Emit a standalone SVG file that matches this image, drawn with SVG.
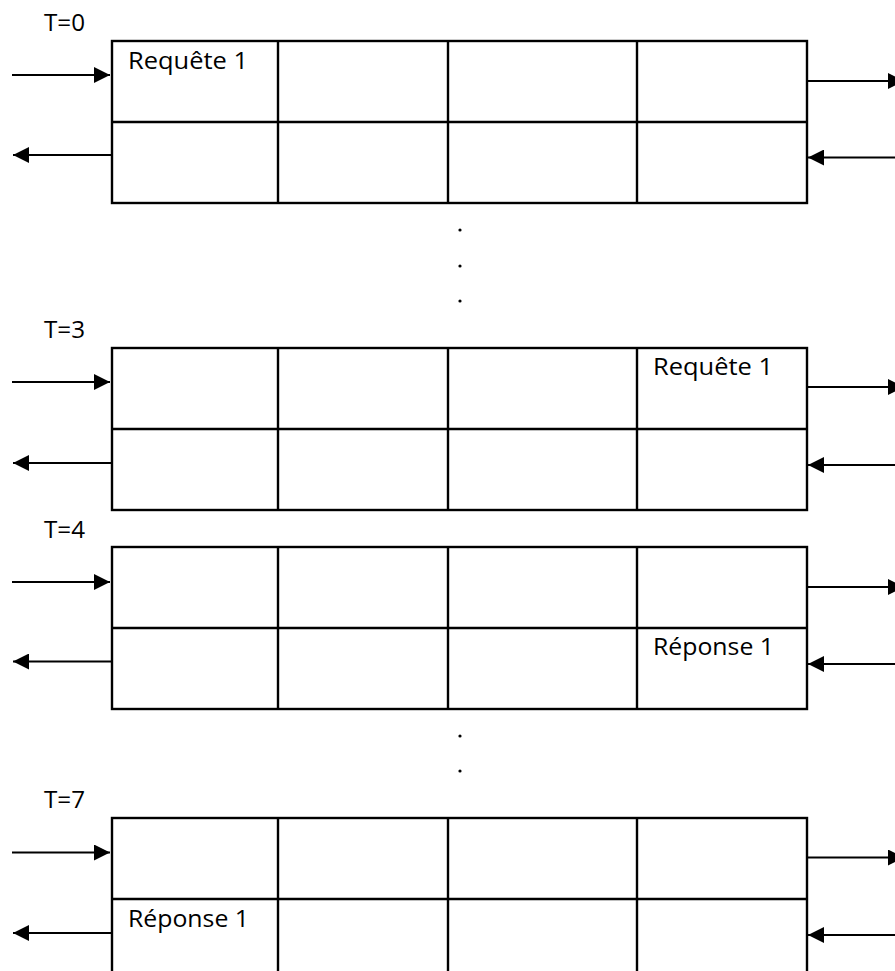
<svg xmlns="http://www.w3.org/2000/svg" width="895" height="971" viewBox="0 0 895 971">
  <style>
    .cell { fill: #ffffff; stroke: #000000; stroke-width: 2.4; }
    .grid { stroke: #000000; stroke-width: 2.4; fill: none; }
    .arrow { stroke: #000000; stroke-width: 2.2; fill: none; marker-end: url(#head); }
    .label { font-family: "Open Sans", "Liberation Sans", sans-serif; font-size: 24px; fill: #000000; }
    .dot { fill: #000000; }
  </style>
  <defs>
    <marker id="head" viewBox="0 0 16 16" refX="16" refY="8" markerWidth="16" markerHeight="16" markerUnits="userSpaceOnUse" orient="auto">
      <path d="M0,0 L16,8 L0,16 z" fill="#000000"/>
    </marker>
    <!-- one time step of the pipeline: two rows of four cells -->
    <g id="grid-cells">
      <rect class="cell" x="112" y="0" width="695" height="162"/>
      <line class="grid" x1="112" y1="81" x2="807" y2="81"/>
      <line class="grid" x1="278" y1="0" x2="278" y2="162"/>
      <line class="grid" x1="448" y1="0" x2="448" y2="162"/>
      <line class="grid" x1="637" y1="0" x2="637" y2="162"/>
    </g>
  </defs>

  <!-- T = 0 -->
  <g id="step-t0">
    <text class="label" x="44" y="31" textLength="41" lengthAdjust="spacingAndGlyphs">T=0</text>
    <use href="#grid-cells" y="41"/>
    <text class="label" x="128" y="69" textLength="120" lengthAdjust="spacingAndGlyphs">Requête 1</text>
  </g>

  <!-- T = 3 -->
  <g id="step-t3">
    <text class="label" x="44" y="338" textLength="41" lengthAdjust="spacingAndGlyphs">T=3</text>
    <use href="#grid-cells" y="348"/>
    <text class="label" x="653" y="375" textLength="120" lengthAdjust="spacingAndGlyphs">Requête 1</text>
  </g>

  <!-- T = 4 -->
  <g id="step-t4">
    <text class="label" x="44" y="538" textLength="41" lengthAdjust="spacingAndGlyphs">T=4</text>
    <use href="#grid-cells" y="547"/>
    <text class="label" x="653" y="655" textLength="121" lengthAdjust="spacingAndGlyphs">Réponse 1</text>
  </g>

  <!-- T = 7 -->
  <g id="step-t7">
    <text class="label" x="44" y="808" textLength="41" lengthAdjust="spacingAndGlyphs">T=7</text>
    <use href="#grid-cells" y="818"/>
    <text class="label" x="128" y="927" textLength="121" lengthAdjust="spacingAndGlyphs">Réponse 1</text>
  </g>

  <!-- elided time steps -->
  <g id="ellipsis">
    <circle class="dot" cx="460" cy="230" r="1.6"/>
    <circle class="dot" cx="460" cy="266" r="1.6"/>
    <circle class="dot" cx="460" cy="301" r="1.6"/>
    <circle class="dot" cx="460" cy="736" r="1.6"/>
    <circle class="dot" cx="460" cy="771" r="1.6"/>
  </g>

  <!-- inbound / outbound flows on both sides of each step -->
  <g id="connectors">
    <line class="arrow" x1="12" y1="75" x2="110" y2="75"/>
    <line class="arrow" x1="112" y1="155" x2="13" y2="155"/>
    <line class="arrow" x1="807" y1="81" x2="904" y2="81"/>
    <line class="arrow" x1="895" y1="157.5" x2="808" y2="157.5"/>

    <line class="arrow" x1="12" y1="382" x2="110" y2="382"/>
    <line class="arrow" x1="112" y1="463" x2="13" y2="463"/>
    <line class="arrow" x1="807" y1="387" x2="904" y2="387"/>
    <line class="arrow" x1="895" y1="465" x2="808" y2="465"/>

    <line class="arrow" x1="12" y1="582" x2="110" y2="582"/>
    <line class="arrow" x1="112" y1="661.5" x2="13" y2="661.5"/>
    <line class="arrow" x1="807" y1="587" x2="904" y2="587"/>
    <line class="arrow" x1="895" y1="664" x2="808" y2="664"/>

    <line class="arrow" x1="12" y1="852.5" x2="110" y2="852.5"/>
    <line class="arrow" x1="112" y1="933" x2="13" y2="933"/>
    <line class="arrow" x1="807" y1="857.5" x2="904" y2="857.5"/>
    <line class="arrow" x1="895" y1="935" x2="808" y2="935"/>
  </g>
</svg>
